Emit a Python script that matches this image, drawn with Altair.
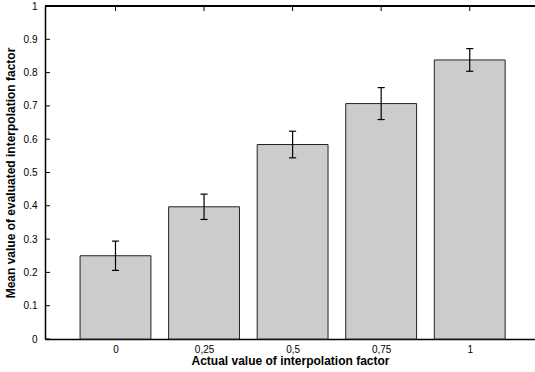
import altair as alt
import pandas as pd

categories = ["0", "0,25", "0,5", "0,75", "1"]
means = [0.250, 0.397, 0.584, 0.707, 0.838]
errors = [0.044, 0.038, 0.040, 0.048, 0.034]
y_ticks = [0, 0.1, 0.2, 0.3, 0.4, 0.5, 0.6, 0.7, 0.8, 0.9, 1]

df = pd.DataFrame({
    "cat": categories,
    "pos": list(range(1, len(categories) + 1)),
    "mean": means,
    "err": errors,
})
df["base"] = 0.0
df["lo"] = df["mean"] - df["err"]
df["hi"] = df["mean"] + df["err"]
df["left"] = df["pos"] - 0.4
df["right"] = df["pos"] + 0.4
df["cl"] = df["pos"] - 0.04
df["cr"] = df["pos"] + 0.04

ticks_df = pd.DataFrame({"t": y_ticks})

W, H = 490, 333
FONT = "Liberation Sans"

xscale = alt.Scale(domain=[0.204, 5.737], nice=False, zero=False)
yscale = alt.Scale(domain=[0, 1], nice=False)

label_expr = "datum.value==1?'0':datum.value==2?'0,25':datum.value==3?'0,5':datum.value==4?'0,75':datum.value==5?'1':''"

xaxis = alt.Axis(values=[1, 2, 3, 4, 5], labelExpr=label_expr, ticks=False,
                 grid=False, domainColor="black", domainWidth=1.5,
                 labelFont=FONT, labelFontSize=10, labelColor="black", labelPadding=5,
                 labelOverlap=False,
                 title="Actual value of interpolation factor",
                 titleFont=FONT, titleFontSize=12, titleFontWeight="bold",
                 titleColor="black", titlePadding=1)
yaxis = alt.Axis(values=y_ticks, ticks=False, grid=False,
                 labelExpr="datum.value==0?'0':datum.value==1?'1':format(datum.value,'.1f')",
                 domainColor="black", domainWidth=1.5, labelOverlap=False,
                 labelFont=FONT, labelFontSize=10, labelColor="black", labelPadding=8,
                 title="Mean value of evaluated interpolation factor",
                 titleFont=FONT, titleFontSize=12, titleFontWeight="bold",
                 titleColor="black", titlePadding=6)

base = alt.Chart(df)

bars = base.mark_bar(fill="#cccccc", stroke="#222222", strokeWidth=1).encode(
    x=alt.X("left:Q", scale=xscale, axis=xaxis),
    x2="right:Q",
    y=alt.Y("mean:Q", scale=yscale, axis=yaxis),
    y2="base:Q",
)

err_v = base.mark_rule(color="black", strokeWidth=1.2).encode(
    x=alt.X("pos:Q", scale=xscale, axis=xaxis), y=alt.Y("lo:Q", scale=yscale, axis=yaxis), y2="hi:Q"
)
cap_hi = base.mark_rule(color="black", strokeWidth=1.2).encode(
    x=alt.X("cl:Q", scale=xscale, axis=xaxis), x2="cr:Q", y=alt.Y("hi:Q", scale=yscale, axis=yaxis)
)
cap_lo = base.mark_rule(color="black", strokeWidth=1.2).encode(
    x=alt.X("cl:Q", scale=xscale, axis=xaxis), x2="cr:Q", y=alt.Y("lo:Q", scale=yscale, axis=yaxis)
)

top_border = alt.Chart(df).mark_rule(color="black", strokeWidth=1.5).encode(
    x=alt.value(0), x2=alt.value(W), y=alt.value(0)
)
top_ticks = base.mark_rule(color="black", strokeWidth=1).encode(
    x=alt.X("pos:Q", scale=xscale, axis=xaxis), y=alt.value(0), y2=alt.value(5)
)
y_tick_marks = alt.Chart(ticks_df).mark_rule(color="black", strokeWidth=1).encode(
    y=alt.Y("t:Q", scale=yscale, axis=yaxis), x=alt.value(0), x2=alt.value(5)
)

chart = alt.layer(bars, err_v, cap_hi, cap_lo, top_border, top_ticks, y_tick_marks).properties(
    width=W, height=H,
    autosize=alt.AutoSizeParams(type="none"),
    padding={"left": 45, "top": 6, "right": 0, "bottom": 33},
).configure_view(stroke=None).configure(background="white")

chart.save("out.html", embed_options={"renderer": "svg", "actions": False})
